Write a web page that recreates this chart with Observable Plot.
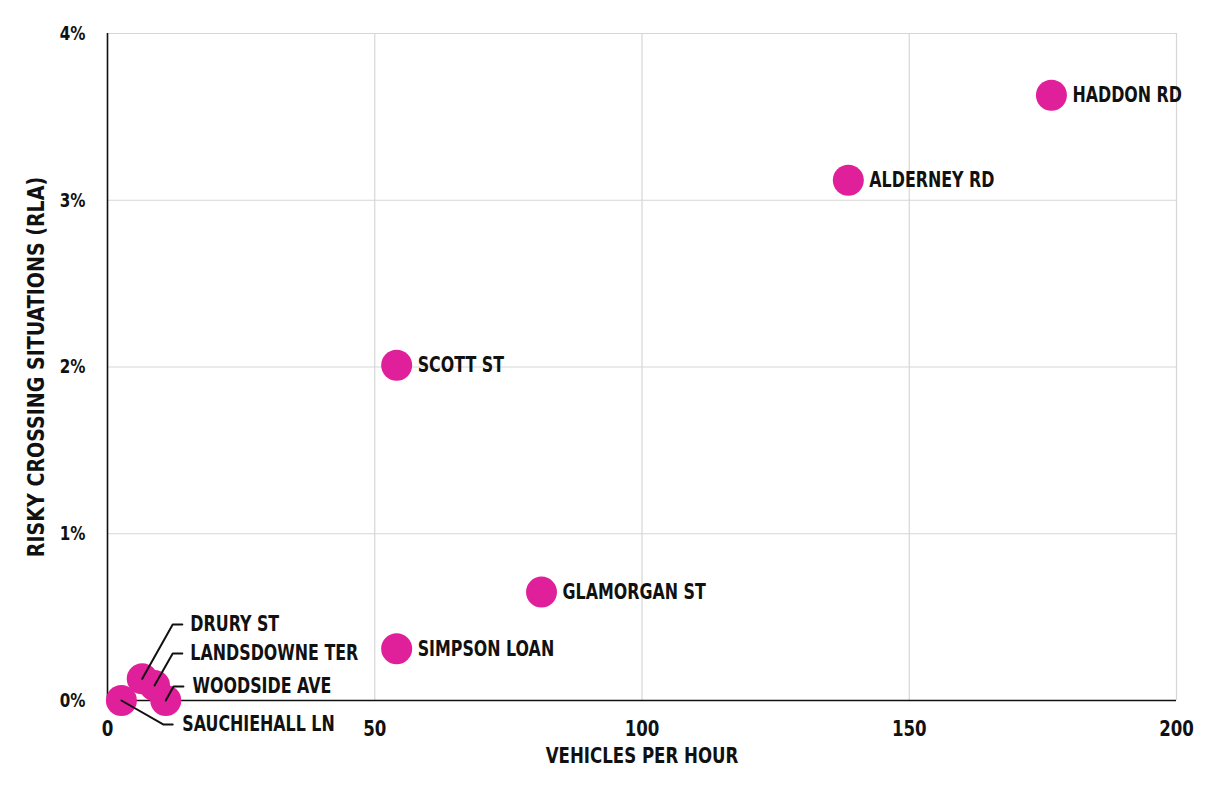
<!DOCTYPE html>
<html>
<head>
<meta charset="utf-8">
<script src="https://cdn.jsdelivr.net/npm/d3@7"></script>
<script src="https://cdn.jsdelivr.net/npm/@observablehq/plot@0.6"></script>
<style>
  html, body { margin: 0; padding: 0; background: #fff; }
  #chart svg { display: block; }
</style>
</head>
<body>
<div id="chart"></div>
<script>
// Data
const names    = ["HADDON RD", "ALDERNEY RD", "SCOTT ST", "GLAMORGAN ST", "SIMPSON LOAN",
                  "DRURY ST", "LANDSDOWNE TER", "WOODSIDE AVE", "SAUCHIEHALL LN"];
const vehicles = [176.6, 138.6, 54.1, 81.2, 54.1, 6.5, 8.8, 10.9, 2.6];   // vehicles per hour
const risky    = [3.63, 3.12, 2.01, 0.65, 0.31, 0.13, 0.09, 0.0, 0.0];   // % risky crossing situations

// Which points get a direct label vs. a callout
const directLabels = ["HADDON RD", "ALDERNEY RD", "SCOTT ST", "GLAMORGAN ST", "SIMPSON LOAN"];
const calloutNames = ["DRURY ST", "LANDSDOWNE TER", "WOODSIDE AVE", "SAUCHIEHALL LN"];
// callout anchor points in data units (elbow, end of leader, label start)
const calloutElbowX = [12.2, 12.2, 12.35, 10.5];
const calloutElbowY = [0.456, 0.282, 0.084, -0.144];
const calloutEndX   = [14.0, 14.0, 14.2, 12.2];
const calloutLabelX = [15.5, 15.5, 15.9, 14.0];

const xTicks = [0, 50, 100, 150, 200];
const yTicks = [0, 1, 2, 3, 4];
const xTitle = "VEHICLES PER HOUR";
const yTitle = "RISKY CROSSING SITUATIONS (RLA)";

const points = names.map((n, i) => ({name: n, x: vehicles[i], y: risky[i]}));
const direct = points.filter(d => directLabels.includes(d.name));

const leaderPts = [];
const calloutText = [];
calloutNames.forEach((n, i) => {
  const p = points.find(d => d.name === n);
  leaderPts.push({name: n, x: p.x, y: p.y});
  leaderPts.push({name: n, x: calloutElbowX[i], y: calloutElbowY[i]});
  leaderPts.push({name: n, x: calloutEndX[i], y: calloutElbowY[i]});
  calloutText.push({name: n, x: calloutLabelX[i], y: calloutElbowY[i]});
});

const FONT = '"DejaVu Sans Condensed", "DejaVu Sans", sans-serif';
const PINK = "#e0209a";

const chart = Plot.plot({
  width: 1213,
  height: 799,
  marginLeft: 107,
  marginRight: 37,
  marginTop: 33,
  marginBottom: 99,
  style: {fontFamily: FONT, fontWeight: "bold", color: "#111", background: "#fff"},
  x: {domain: [0, 200]},
  y: {domain: [0, 4]},
  marks: [
    Plot.gridX(xTicks, {stroke: "#d6d6d6", strokeOpacity: 1, strokeWidth: 1.2}),
    Plot.gridY(yTicks, {stroke: "#d6d6d6", strokeOpacity: 1, strokeWidth: 1.2}),
    Plot.axisX(xTicks, {tickSize: 0, tickPadding: 20, fontSize: 22, label: null, tickFormat: d => String(d)}),
    Plot.axisY(yTicks, {tickSize: 0, tickPadding: 22, fontSize: 20, label: null, tickFormat: d => d + "%"}),
    Plot.ruleX([0], {stroke: "#111", strokeWidth: 1.6}),
    Plot.ruleY([0], {stroke: "#111", strokeWidth: 1.6}),
    Plot.dot(points, {x: "x", y: "y", r: 15.5, fill: PINK, stroke: null}),
    Plot.line(leaderPts, {x: "x", y: "y", z: "name", stroke: "#111", strokeWidth: 2, curve: "linear"}),
    Plot.text(direct, {x: "x", y: "y", text: "name", textAnchor: "start", dx: 21, fontSize: 21, fill: "#111"}),
    Plot.text(calloutText, {x: "x", y: "y", text: "name", textAnchor: "start", fontSize: 21, fill: "#111"}),
    Plot.text([xTitle], {frameAnchor: "bottom", dy: 62, fontSize: 22, fill: "#111"}),
    Plot.text([yTitle], {frameAnchor: "left", dx: -71, rotate: -90, textAnchor: "middle", fontSize: 23, fill: "#111"})
  ]
});

document.getElementById("chart").appendChild(chart);

// Condense glyphs horizontally to mimic the heavy condensed typeface of the reference
chart.querySelectorAll("text").forEach(t => {
  const len = t.getComputedTextLength();
  if (len > 0) {
    const k = t.textContent === yTitle ? 0.92 : 0.84;
    t.setAttribute("textLength", (len * k).toFixed(1));
    t.setAttribute("lengthAdjust", "spacingAndGlyphs");
  }
});
</script>
</body>
</html>
